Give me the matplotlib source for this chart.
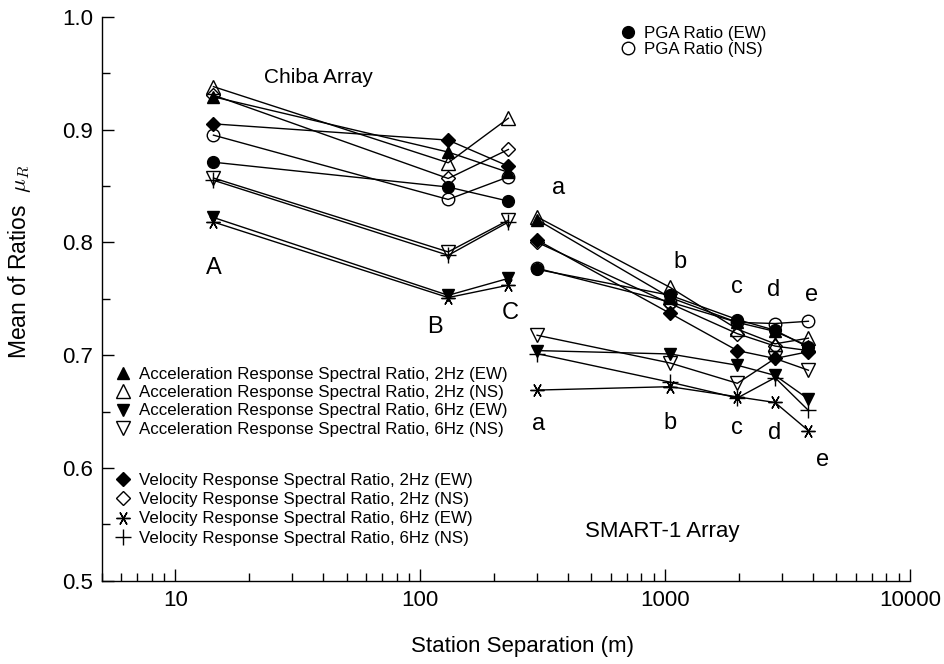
import matplotlib
matplotlib.use('Agg')
import matplotlib.pyplot as plt
from matplotlib.lines import Line2D
from matplotlib.ticker import FixedLocator, NullFormatter, FormatStrFormatter

plt.rcParams['font.family'] = ['Liberation Sans', 'DejaVu Sans']
plt.rcParams['mathtext.fontset'] = 'cm'

# ---- data ----
chiba_sep = [14.3, 130, 229]
smart_sep = [300, 1048, 1972, 2811, 3847]

pga_ew_chiba = [0.871, 0.849, 0.8365]
pga_ew_smart = [0.776, 0.753, 0.7315, 0.722, 0.707]
pga_ns_chiba = [0.895, 0.838, 0.858]
pga_ns_smart = [0.777, 0.747, 0.729, 0.728, 0.730]
acc2_ew_chiba = [0.929, 0.880, 0.862]
acc2_ew_smart = [0.820, 0.751, 0.729, 0.721, 0.708]
acc2_ns_chiba = [0.938, 0.8705, 0.910]
acc2_ns_smart = [0.8225, 0.760, 0.723, 0.710, 0.715]
acc6_ew_chiba = [0.822, 0.753, 0.768]
acc6_ew_smart = [0.704, 0.701, 0.691, 0.682, 0.661]
acc6_ns_chiba = [0.857, 0.7915, 0.8196]
acc6_ns_smart = [0.7176, 0.693, 0.675, 0.697, 0.6866]
vel2_ew_chiba = [0.905, 0.8906, 0.8675]
vel2_ew_smart = [0.802, 0.737, 0.704, 0.697, 0.703]
vel2_ns_chiba = [0.9305, 0.8566, 0.8823]
vel2_ns_smart = [0.800, 0.7457, 0.719, 0.708, 0.704]
vel6_ew_chiba = [0.818, 0.751, 0.762]
vel6_ew_smart = [0.669, 0.672, 0.663, 0.658, 0.633]
vel6_ns_chiba = [0.855, 0.7885, 0.818]
vel6_ns_smart = [0.7013, 0.676, 0.662, 0.680, 0.651]

pga_labels = ["PGA Ratio (EW)", "PGA Ratio (NS)"]
acc_labels = ["Acceleration Response Spectral Ratio, 2Hz (EW)",
              "Acceleration Response Spectral Ratio, 2Hz (NS)",
              "Acceleration Response Spectral Ratio, 6Hz (EW)",
              "Acceleration Response Spectral Ratio, 6Hz (NS)"]
vel_labels = ["Velocity Response Spectral Ratio, 2Hz (EW)",
              "Velocity Response Spectral Ratio, 2Hz (NS)",
              "Velocity Response Spectral Ratio, 6Hz (EW)",
              "Velocity Response Spectral Ratio, 6Hz (NS)"]

x_ticks = [10, 100, 1000, 10000]
y_ticks = [0.5, 0.6, 0.7, 0.8, 0.9, 1.0]

# ---- styles ----
ASTER = (6, 2, 30)
styles = [
    dict(marker='o', ms=8.5, mfc='black'),
    dict(marker='o', ms=9, mfc='none'),
    dict(marker='^', ms=8.5, mfc='black'),
    dict(marker='^', ms=9.5, mfc='none'),
    dict(marker='v', ms=8.5, mfc='black'),
    dict(marker='v', ms=9.5, mfc='none'),
    dict(marker='D', ms=7.5, mfc='black'),
    dict(marker='D', ms=7.5, mfc='none'),
    dict(marker=ASTER, ms=10),
    dict(marker='+', ms=11),
]
chiba_series = [pga_ew_chiba, pga_ns_chiba, acc2_ew_chiba, acc2_ns_chiba, acc6_ew_chiba,
                acc6_ns_chiba, vel2_ew_chiba, vel2_ns_chiba, vel6_ew_chiba, vel6_ns_chiba]
smart_series = [pga_ew_smart, pga_ns_smart, acc2_ew_smart, acc2_ns_smart, acc6_ew_smart,
                acc6_ns_smart, vel2_ew_smart, vel2_ns_smart, vel6_ew_smart, vel6_ns_smart]

W, H = 945, 664
fig = plt.figure(figsize=(W / 100, H / 100), dpi=100)
ax = fig.add_axes([101.7 / W, 1 - 580.7 / H, 808.3 / W, 564 / H])

for st, yc, ys in zip(styles, chiba_series, smart_series):
    kw = dict(color='black', lw=1.0, mec='black', mew=1.0)
    kw.update(st)
    ax.plot(chiba_sep, yc, **kw)
    ax.plot(smart_sep, ys, **kw)

ax.set_xscale('log')
ax.set_xlim(5, 10000)
ax.set_ylim(0.5, 1.0)
ax.xaxis.set_major_locator(FixedLocator(x_ticks))
ax.set_xticklabels([str(t) for t in x_ticks])
minor = [m * 10 ** e for e in range(0, 4) for m in range(2, 10) if 5 <= m * 10 ** e < 10000]
ax.xaxis.set_minor_locator(FixedLocator(minor))
ax.xaxis.set_minor_formatter(NullFormatter())
ax.yaxis.set_major_locator(FixedLocator(y_ticks))
ax.yaxis.set_major_formatter(FormatStrFormatter('%.1f'))
ax.yaxis.set_minor_locator(FixedLocator([0.55, 0.65, 0.75, 0.85, 0.95]))
ax.tick_params(which='major', direction='in', length=8.5, width=1.0, labelsize=16, pad=6)
ax.tick_params(which='minor', direction='in', length=5.8, width=1.0)
ax.tick_params(axis='x', which='major', pad=7)
for s in ['top', 'right']:
    ax.spines[s].set_visible(False)
for s in ['left', 'bottom']:
    ax.spines[s].set_linewidth(1.0)

ax.set_xlabel('Station Separation (m)', fontsize=16)
ax.xaxis.set_label_coords(0.521, -0.098)
ax.set_ylabel(r'Mean of Ratios  $\mu_R$', fontsize=16.5)
ax.yaxis.set_label_coords(-0.085, 0.565)

# annotations
tfs = 17
ax.text(14.3, 0.777, 'A', fontsize=tfs, ha='center', va='center')
ax.text(115, 0.7245, 'B', fontsize=tfs, ha='center', va='center')
ax.text(233, 0.737, 'C', fontsize=tfs, ha='center', va='center')
for lab, xx, yy in [('a', 366, 0.848), ('b', 1151, 0.7824), ('c', 1967, 0.760),
                    ('d', 2763, 0.7575), ('e', 3981, 0.753),
                    ('a', 303, 0.639), ('b', 1048, 0.640), ('c', 1967, 0.635),
                    ('d', 2811, 0.6306), ('e', 4400, 0.607)]:
    ax.text(xx, yy, lab, fontsize=tfs, ha='center', va='center')
ax.text(0.268, 0.893, 'Chiba Array', transform=ax.transAxes, fontsize=15, ha='center', va='center')
ax.text(0.694, 0.087, 'SMART-1 Array', transform=ax.transAxes, fontsize=16, ha='center', va='center')

# legends
def handle(st):
    kw = dict(color='black', mec='black', mew=1.0, ls='none')
    kw.update(st)
    return Line2D([], [], **kw)

lfs = 12.2
common = dict(frameon=False, fontsize=lfs, handlelength=1.0, handletextpad=0.46,
              borderpad=0, borderaxespad=0, loc='upper left', numpoints=1,
              bbox_transform=fig.transFigure)
leg1 = ax.legend([handle(s) for s in styles[0:2]], pga_labels, labelspacing=0.05,
                 bbox_to_anchor=(619.5 / W, 1 - 26 / H), **common)
ax.add_artist(leg1)
leg2 = ax.legend([handle(s) for s in styles[2:6]], acc_labels, labelspacing=0.2,
                 bbox_to_anchor=(114.5 / W, 1 - 366.7 / H), **common)
ax.add_artist(leg2)
leg3 = ax.legend([handle(s) for s in styles[6:10]], vel_labels, labelspacing=0.25,
                 bbox_to_anchor=(114.5 / W, 1 - 473 / H), **common)

fig.savefig('out.png', dpi=100)
